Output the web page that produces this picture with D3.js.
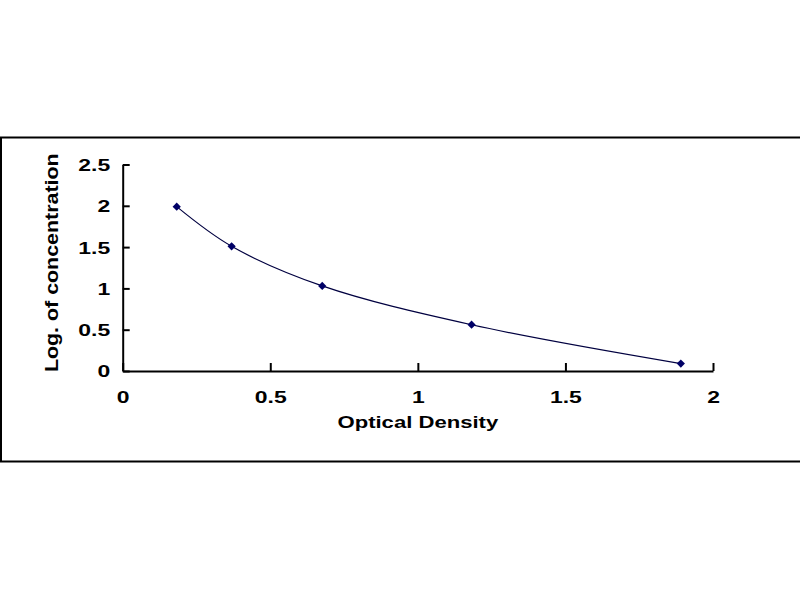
<!DOCTYPE html>
<html>
<head>
<meta charset="utf-8">
<script src="https://cdn.jsdelivr.net/npm/d3@7"></script>
<style>
  body { margin: 0; background: #fff; }
  svg { display: block; }
  text { font-family: 'Liberation Sans', Arial, sans-serif; font-weight: bold; fill: #000; }
</style>
</head>
<body>
<svg id="chart" width="800" height="600" viewBox="0 0 800 600"></svg>
<script>
// standard curve points
const opticalDensity = [0.183, 0.369, 0.676, 1.182, 1.891]
const logConcentration = [1.99, 1.51, 1.03, 0.56, 0.09]

const xTicks = [0, 0.5, 1, 1.5, 2]
const yTicks = [0, 0.5, 1, 1.5, 2, 2.5]

const xTitle = 'Optical Density'
const yTitle = 'Log. of concentration'

const svg = d3.select('#chart')

// outer frame (runs off the right edge like the picture)
svg.append('rect')
  .attr('x', 1)
  .attr('y', 137.5)
  .attr('width', 830)
  .attr('height', 324)
  .attr('fill', 'none')
  .attr('stroke', '#000')
  .attr('stroke-width', 2)

const x = d3.scaleLinear().domain([0, 2]).range([122.7, 713])
const y = d3.scaleLinear().domain([0, 2.5]).range([371, 164.5])

const stretch = 1.35

// y axis, ticks point inward
const yAxis = svg.append('g')
  .attr('transform', `translate(${x(0)},0)`)
  .call(d3.axisLeft(y).tickValues(yTicks).tickSizeInner(-7).tickSizeOuter(0).tickFormat(d3.format('')))
yAxis.select('.domain').attr('stroke', '#000').attr('stroke-width', 2)
yAxis.selectAll('.tick line').attr('stroke', '#000').attr('stroke-width', 2)
yAxis.selectAll('.tick text')
  .attr('x', 0)
  .attr('dy', '0.35em')
  .attr('text-anchor', 'end')
  .attr('font-size', 17)
  .attr('transform', `translate(-12.5,0) scale(${stretch},1)`)

// x axis
const xAxis = svg.append('g')
  .attr('transform', `translate(0,${y(0)})`)
  .call(d3.axisBottom(x).tickValues(xTicks).tickSizeInner(-8).tickSizeOuter(0).tickFormat(d3.format('')))
xAxis.select('.domain').attr('stroke', '#000').attr('stroke-width', 2)
xAxis.selectAll('.tick line').attr('stroke', '#000').attr('stroke-width', 2)
xAxis.selectAll('.tick text')
  .attr('y', 0)
  .attr('dy', 0)
  .attr('text-anchor', 'middle')
  .attr('font-size', 17)
  .attr('transform', `translate(0,32) scale(${stretch},1)`)

// axis titles
svg.append('text')
  .attr('text-anchor', 'middle')
  .attr('font-size', 17)
  .attr('transform', `translate(${(x(0) + x(2)) / 2},428) scale(1.3,1)`)
  .text(xTitle)

svg.append('text')
  .attr('text-anchor', 'middle')
  .attr('font-size', 18)
  .attr('transform', `translate(58,${(y(0) + y(2.5)) / 2 - 5}) rotate(-90) scale(1.19,1)`)
  .text(yTitle)

const pts = opticalDensity.map((d, i) => ({ x: d, y: logConcentration[i] }))

const line = d3.line()
  .x(d => x(d.x))
  .y(d => y(d.y))
  .curve(d3.curveCatmullRom)

svg.append('path')
  .datum(pts)
  .attr('d', line)
  .attr('fill', 'none')
  .attr('stroke', '#000040')
  .attr('stroke-width', 1.2)

svg.append('g')
  .selectAll('path')
  .data(pts)
  .enter()
  .append('path')
  .attr('d', d3.symbol().type(d3.symbolSquare).size(34))
  .attr('transform', d => `translate(${x(d.x)},${y(d.y)}) rotate(45)`)
  .attr('fill', '#000066')
</script>
</body>
</html>
